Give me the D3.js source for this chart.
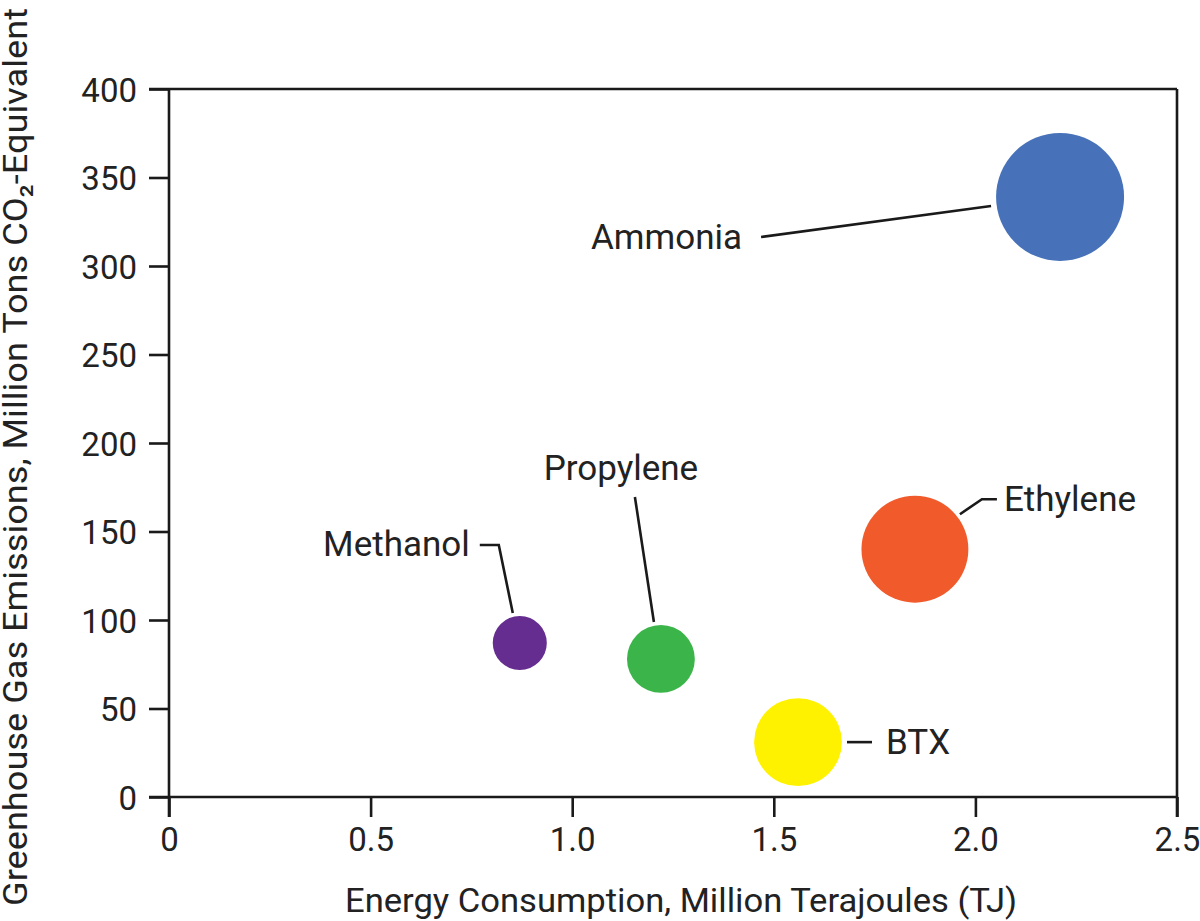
<!DOCTYPE html>
<html lang="en">
<head>
    <meta charset="UTF-8">
    <title>Energy vs GHG emissions</title>
    <script src="https://cdn.jsdelivr.net/npm/d3@7"></script>
    <style>
        body{
            margin:0;
            background:#fff;
            font-family: Roboto, "Liberation Sans", sans-serif;
        }
        .axis path, .axis line{
            stroke:#1a1a1a;
            stroke-width:2.6px;
        }
        .axis text{
            font-size:33px;
            fill:#222;
            font-family: Roboto, sans-serif;
        }
        .title{
            font-size:33px;
            fill:#222;
        }
        .label{
            font-size:35px;
            fill:#222;
        }
        .leader{
            fill:none;
            stroke:#1a1a1a;
            stroke-width:2.6px;
        }
    </style>
</head>
<body>
<script>
    // data
    var chemicals = ['Ammonia', 'Methanol', 'Propylene', 'Ethylene', 'BTX'];
    var energy    = [2.21, 0.87, 1.22, 1.85, 1.56];   // million TJ
    var emissions = [339, 87, 78, 140, 31];           // Mt CO2-eq
    var bubble    = [185, 33, 52, 129, 87];           // bubble size
    var colors    = ['#4771b8', '#652d8f', '#3bb54a', '#f15a2b', '#fff200'];
    var xTicks    = [0, 0.5, 1.0, 1.5, 2.0, 2.5];
    var yTicks    = [0, 50, 100, 150, 200, 250, 300, 350, 400];

    // label placement relative to bubble centre (pixels)
    var labelLayout = {
        Ammonia:   {anchor:'end',    dx:-318, dy:52,   leader:[[-299,40],[-69,9]]},
        Methanol:  {anchor:'end',    dx:-50,  dy:-87,  leader:[[-40,-98],[-21,-98],[-7,-30]]},
        Propylene: {anchor:'middle', dx:-40,  dy:-179, leader:[[-26,-162],[-7,-37]]},
        Ethylene:  {anchor:'start',  dx:89,   dy:-38,  leader:[[45,-35],[67,-50],[82,-50]]},
        BTX:       {anchor:'start',  dx:88,   dy:12,   leader:[[49,0],[74,0]]}
    };

    var width = 1200, height = 921;
    var x0 = 169, x1 = 1177, y0 = 797, y1 = 89;

    var x = d3.scaleLinear().domain([0, 2.5]).range([x0, x1]);
    var y = d3.scaleLinear().domain([0, 400]).range([y0, y1]);
    var r = d3.scaleSqrt().domain([0, d3.max(bubble)]).range([0, 64]);

    var data = chemicals.map(function(c, i){
        return {name:c, energy:energy[i], emissions:emissions[i], size:bubble[i], color:colors[i]};
    });

    var svg = d3.select('body').append('svg')
        .attr('width', width)
        .attr('height', height);

    var fmt = function(d){ return d === 0 ? '0' : d3.format('.1f')(d); };

    // x axis
    var xAxis = svg.append('g')
        .attr('class', 'axis')
        .attr('transform', 'translate(0,' + y0 + ')')
        .call(d3.axisBottom(x).tickValues(xTicks).tickFormat(fmt).tickSize(20).tickPadding(11).tickSizeOuter(0));
    xAxis.select('.domain').attr('d', 'M' + (x0 - 20) + ',0H' + x1);

    // y axis
    var yAxis = svg.append('g')
        .attr('class', 'axis')
        .attr('transform', 'translate(' + x0 + ',0)')
        .call(d3.axisLeft(y).tickValues(yTicks).tickSize(20).tickPadding(12).tickSizeOuter(0));
    yAxis.select('.domain').attr('d', 'M0,' + y1 + 'V' + (y0 + 20));
    yAxis.selectAll('text').attr('dy', '0.37em');

    // top and right frame
    svg.append('line').attr('class', 'leader')
        .attr('x1', x(0) - 20).attr('x2', x(2.5))
        .attr('y1', y(400)).attr('y2', y(400));
    svg.append('line').attr('class', 'leader')
        .attr('x1', x(2.5)).attr('x2', x(2.5))
        .attr('y1', y(400)).attr('y2', y(0) + 20);

    // axis titles
    svg.append('text')
        .attr('class', 'title')
        .attr('x', 345)
        .attr('y', 912)
        .attr('textLength', 672)
        .attr('lengthAdjust', 'spacingAndGlyphs')
        .text('Energy Consumption, Million Terajoules (TJ)');

    svg.append('text')
        .attr('class', 'title')
        .attr('transform', 'translate(27,906) rotate(-90)')
        .attr('textLength', 898)
        .attr('lengthAdjust', 'spacingAndGlyphs')
        .text('Greenhouse Gas Emissions, Million Tons CO\u2082-Equivalent');

    // bubbles
    svg.append('g').selectAll('circle')
        .data(data)
        .enter().append('circle')
        .attr('cx', function(d){ return x(d.energy); })
        .attr('cy', function(d){ return y(d.emissions); })
        .attr('r', function(d){ return r(d.size); })
        .attr('fill', function(d){ return d.color; });

    // leaders + labels
    var line = d3.line();
    var ann = svg.append('g').selectAll('g')
        .data(data)
        .enter().append('g')
        .attr('transform', function(d){ return 'translate(' + x(d.energy) + ',' + y(d.emissions) + ')'; });

    ann.append('path')
        .attr('class', 'leader')
        .attr('d', function(d){ return line(labelLayout[d.name].leader); });

    ann.append('text')
        .attr('class', 'label')
        .attr('x', function(d){ return labelLayout[d.name].dx; })
        .attr('y', function(d){ return labelLayout[d.name].dy; })
        .attr('text-anchor', function(d){ return labelLayout[d.name].anchor; })
        .text(function(d){ return d.name; });
</script>
</body>
</html>
